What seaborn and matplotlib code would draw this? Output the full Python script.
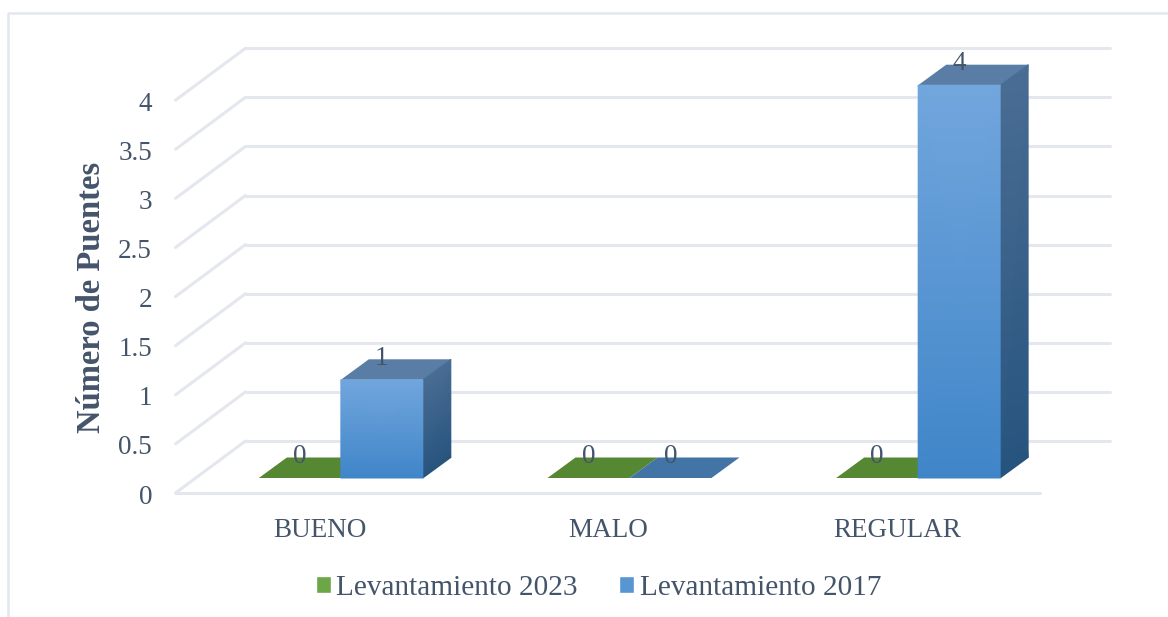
import numpy as np
import pandas as pd
import matplotlib
matplotlib.use("Agg")
import matplotlib.pyplot as plt
import seaborn as sns
from matplotlib.collections import QuadMesh
from matplotlib.colors import LinearSegmentedColormap
from matplotlib.lines import Line2D
from matplotlib.transforms import Affine2D

categorias = ["BUENO", "MALO", "REGULAR"]
levantamientos = ["Levantamiento 2023", "Levantamiento 2017"]
puentes_2023 = [0, 0, 0]
puentes_2017 = [1, 0, 4]
ticks_y = [0, 0.5, 1, 1.5, 2, 2.5, 3, 3.5, 4]
etiquetas_y = ["0", "0.5", "1", "1.5", "2", "2.5", "3", "3.5", "4"]

TEXTO = "#44546A"
GRID = "#E4E7EE"

df = pd.DataFrame({
    "estado": categorias * 2,
    "levantamiento": [levantamientos[0]] * 3 + [levantamientos[1]] * 3,
    "puentes": puentes_2023 + puentes_2017,
})

sns.set_theme(style="white")
plt.rcParams["font.family"] = ["Liberation Serif", "DejaVu Serif"]

W, H = 1168, 617
fig = plt.figure(figsize=(W / 100, H / 100), dpi=100, facecolor="white")

# plane of the front of the bars, in pixels of the image
left, right, bottom = 196.5, 1062.5, 478
px_y = 98.2
ax = fig.add_axes([left / W, (H - bottom) / H, (right - left) / W, px_y * 4.5 / H])

sns.barplot(data=df, x="estado", y="puentes", hue="levantamiento",
            palette=["#6BA647", "#5795D3"], width=0.568, gap=0, saturation=1, ax=ax)
ax.set_xlim(-0.5, 2.5)
ax.set_ylim(0, 4.5)
ax.patch.set_alpha(0)
sns.despine(ax=ax, left=True, bottom=True)
px_x = (right - left) / 3


def dx(px):
    return px / px_x


def dy(px):
    return px / px_y


# walls of the fake 3d box
wall_x, wall_y = dx(49), dy(37)
floor_x, floor_y = dx(-21), dy(-15)
end_x = 2.5 - dx(2)
for v in ticks_y:
    ax.plot([-0.5 + wall_x, end_x + wall_x], [v + wall_y] * 2, color=GRID, lw=2.2, zorder=0, clip_on=False)
    ax.plot([-0.5 + floor_x, -0.5 + wall_x], [v + floor_y, v + wall_y], color=GRID, lw=2.2, zorder=0,
            clip_on=False, solid_capstyle="round")
ax.plot([-0.5 + floor_x, end_x + floor_x], [floor_y] * 2, color=GRID, lw=2.2, zorder=0, clip_on=False)


def face(xs, ys, top, low, z):
    cmap = LinearSegmentedColormap.from_list("f", [low, top])
    coords = np.dstack([xs, ys])
    mesh = QuadMesh(coords, shading="gouraud", cmap=cmap, transform=ax.transData, zorder=z, clip_on=False)
    mesh.set_array(np.array([[0, 0], [1, 1]]))
    mesh.set_clim(0, 1)
    ax.add_collection(mesh, autolim=False)


side_x, side_y = dx(28), dy(20.5)
top_colors = ["#568733", "#5A7DA6"]
flat_colors = ["#568733", "#4274A6"]
z = 3
for i, cont in enumerate(ax.containers):
    for rect in cont:
        x0, w, h = rect.get_x(), rect.get_width(), rect.get_height()
        x1 = x0 + w
        rect.set_visible(h > 0)
        ax.fill([x0, x1, x1 + side_x, x0 + side_x], [h, h, h + side_y, h + side_y],
                color=top_colors[i] if h > 0 else flat_colors[i], lw=0, zorder=z, clip_on=False)
        if h > 0:
            face([[x1, x1 + side_x], [x1, x1 + side_x]], [[0, side_y], [h, h + side_y]],
                 "#4A6D94", "#27547E", z + 0.1)
            face([[x0, x1], [x0, x1]], [[0, 0], [h, h]], "#72A6DD", "#3F85C8", z + 0.2)
        z += 1
    labels = ax.bar_label(cont, fmt="%g", padding=6.5, color=TEXTO, fontsize=19.5)
    for t in labels:
        t.set_zorder(20)
        t.set_clip_on(False)

# tick labels sit on the front edge of the floor
offset = Affine2D().translate(-21, -15)
ax.set_yticks(ticks_y)
ax.set_yticklabels(etiquetas_y)
ax.tick_params(axis="y", length=0, pad=32, labelsize=19.5, labelcolor=TEXTO)
ax.tick_params(axis="x", length=0, pad=18, labelsize=19.5, labelcolor=TEXTO)
for t in ax.get_yticklabels():
    t.set_transform(t.get_transform() + Affine2D().translate(0, -16))
for t in ax.get_xticklabels():
    t.set_transform(t.get_transform() + offset)

ax.set_xlabel("")
ax.set_ylabel("Número de Puentes", fontsize=23.5, fontweight="bold", color=TEXTO, va="center", ha="center")
ax.yaxis.set_label_coords(92 / W, 1 - 297 / H, transform=fig.transFigure)

sns.move_legend(ax, "center", bbox_to_anchor=(598.5 / W, 1 - 588 / H), bbox_transform=fig.transFigure,
                ncol=2, title=None, frameon=False, fontsize=21.1, labelcolor=TEXTO,
                handlelength=0.51, handleheight=0.51, handletextpad=0.2, columnspacing=1.4)

# outer border of the chart area, cut by the crop of the image
fig.add_artist(Line2D([8 / W, 8 / W, 1], [0, 1 - 13 / H, 1 - 13 / H], color="#E3E8EE", lw=1.8))

fig.savefig("out.png", dpi=100)
